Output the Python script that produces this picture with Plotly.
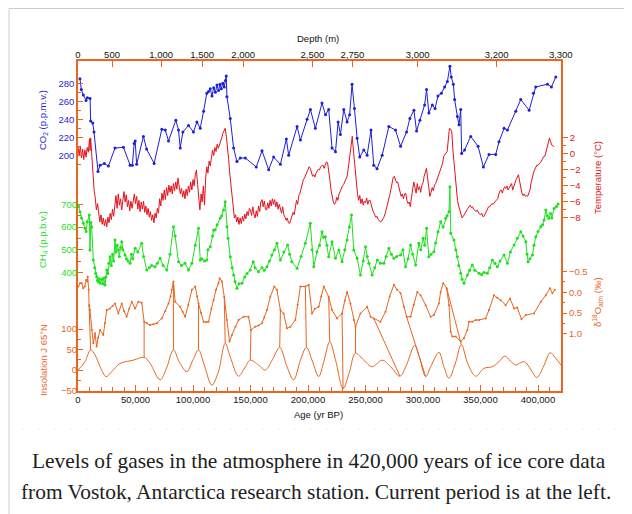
import numpy as np
import plotly.graph_objects as go

# ---------------- data (ages in thousands of years BP) ----------------
co2_age = [1.7, 2.9, 4.6, 7.0, 8.1, 10.5, 11.0, 12.8, 13.9, 17.4, 19.2, 22.9, 26.4, 32.2, 39.5, 45.3, 47.3,
           48.8, 49.7, 51.0, 56.9, 59.6, 66.2, 72.9, 75.9, 78.7, 85.1, 87.4, 88.9, 91.2, 96.1, 100.4, 103.4,
           106.3, 109.2, 112.0, 113.5, 115.0, 116.5, 118.0, 119.5, 120.8, 122.2, 123.5, 124.6, 126.0, 127.2,
           128.2, 128.9, 129.5, 132.4, 135.3, 138.2, 141.1, 145.5, 155.0, 160.0, 165.8, 170.1, 176.0, 181.2,
           183.2, 190.5, 193.4, 199.2, 202.1, 206.4, 212.2, 215.2, 218.0, 220.9, 223.9, 226.2, 228.2, 231.1,
           234.0, 236.2, 238.3, 240.4, 242.7, 245.0, 248.5, 251.4, 254.8, 257.2, 260.0, 264.5, 270.3, 276.1,
           280.5, 285.7, 288.6, 292.1, 294.4, 297.3, 301.4, 303.1, 305.1, 308.1, 310.5, 313.0, 316.0, 318.8,
           321.2, 323.4, 324.6, 326.4, 327.5, 329.9, 331.3, 332.8, 333.6, 336.2, 341.5, 347.9, 352.5, 357.4,
           363.2, 366.1, 370.5, 373.4, 380.7, 385.0, 392.3, 396.0, 398.0, 408.2, 411.7, 415.5]
co2_ppmv = [285, 273, 267, 261, 264, 263, 238, 236, 226, 182, 189, 191, 188, 208, 209, 189, 189,
            213, 216, 190, 221, 207, 191, 229, 228, 216, 239, 228, 208, 226, 233, 226, 237,
            230, 249, 269, 271, 274, 266, 275, 270, 278, 272, 279, 274, 280, 276,
            283, 288, 265, 241, 208, 193, 197, 197, 187, 205, 184, 198, 190, 218,
            200, 232, 217, 240, 251, 230, 258, 245, 251, 208, 204, 237, 223, 251,
            237, 245, 279, 252, 219, 198, 206, 200, 228, 189, 185, 200, 232, 228,
            210, 226, 241, 250, 227, 239, 256, 273, 247, 256, 252, 266, 269, 276,
            282, 299, 287, 279, 262, 243, 234, 251, 202, 206, 221, 210, 187, 201,
            201, 215, 230, 228, 249, 262, 250, 269, 276, 279, 276, 287]

temp_age = [0, 1, 2, 3, 4, 5, 6, 7, 8, 9, 10, 10.5, 11, 12, 13, 14, 15, 16, 17, 18, 19, 20, 21, 22, 23, 24,
            25, 26, 27, 28, 29, 30, 31, 32, 33, 34, 35, 36, 37, 38, 39, 40, 41, 42, 43, 44, 45, 46, 47, 48,
            49, 50, 51, 52, 53, 54, 55, 56, 57, 58, 59, 60, 61, 62, 63, 64, 65, 66, 67, 68, 69, 70, 71, 72,
            73, 74, 75, 76, 77, 78, 79, 80, 81, 82, 83, 84, 85, 86, 87, 88, 89, 90, 91, 92, 93, 94, 95, 96,
            97, 98, 99, 100, 101, 102, 103, 104, 105, 106, 107, 108, 109, 110, 111, 112, 113, 114, 115, 116,
            117, 118, 119, 120, 121, 122, 123, 124, 125, 126, 127, 128, 129, 130, 131, 132, 133, 134, 135,
            136, 137, 138, 139, 140, 141, 142, 143, 144, 145, 146, 147, 148, 149, 150, 151, 152, 153, 154,
            155, 156, 157, 158, 159, 160, 161, 162, 163, 164, 165, 166, 167, 168, 169, 170, 171, 172, 173,
            174, 175, 176, 177, 178, 179, 180, 181, 182, 183, 184, 185, 186, 187, 188, 189, 190, 191, 192,
            193, 194, 195, 196, 197, 198, 199, 200, 201, 202, 203, 204, 205, 206, 207, 208, 209, 210, 211,
            212, 213, 214, 215, 216, 217, 218, 219, 220, 221, 222, 223, 224, 225, 226, 227, 228, 229, 230,
            231, 232, 233, 234, 235, 236, 237, 238, 238.5, 239, 240, 241, 242, 243, 244, 245, 246, 247, 248,
            249, 250, 251, 252, 253, 254, 255, 256, 257, 258, 259, 260, 261, 262, 263, 264, 265, 266, 267,
            268, 269, 270, 271, 272, 273, 274, 275, 276, 277, 278, 279, 280, 281, 282, 283, 284, 285, 286,
            287, 288, 289, 290, 291, 292, 293, 294, 295, 296, 297, 298, 299, 300, 301, 302, 303, 304, 305,
            306, 307, 308, 309, 310, 311, 312, 313, 314, 315, 316, 317, 318, 319, 320, 321, 322, 323, 324,
            325, 326, 327, 328, 329, 330, 331, 332, 333, 334, 335, 336, 337, 338, 339, 340, 341, 342, 343,
            344, 345, 346, 347, 348, 349, 350, 351, 352, 353, 354, 355, 356, 357, 358, 359, 360, 361, 362,
            363, 364, 365, 366, 367, 368, 369, 370, 371, 372, 373, 374, 375, 376, 377, 378, 379, 380, 381,
            382, 383, 384, 385, 386, 387, 388, 389, 390, 391, 392, 393, 394, 395, 396, 397, 398, 399, 400,
            401, 402, 403, 404, 405, 406, 407, 408, 409, 410, 411, 412, 413, 414]
temp_c = [0.9, -0.2, 1.0, -0.5, 0.6, -0.7, 0.5, -0.4, 0.8, 0.2, 1.9, 0.4, 2.0, -0.3, -2.5, -4.5, -5.5,
          -7.0, -6.2, -7.8, -8.5, -7.6, -8.8, -8.0, -9.0, -8.2, -9.1, -7.9, -8.6, -7.4, -8.2, -6.9, -7.8,
          -6.5, -5.2, -6.8, -5.0, -6.4, -5.6, -7.0, -5.4, -4.7, -6.0, -5.1, -6.6, -5.8, -7.1, -5.9, -6.8,
          -5.5, -5.0, -6.2, -5.3, -6.9, -5.8, -7.2, -6.0, -6.9, -5.9, -7.3, -6.5, -7.6, -6.8, -7.9, -7.2,
          -8.3, -7.6, -8.6, -7.4, -8.0, -6.8, -7.4, -5.6, -6.5, -4.9, -5.8, -4.5, -5.7, -4.2, -5.2, -3.9,
          -4.8, -4.0, -5.0, -3.7, -4.6, -3.5, -4.4, -3.0, -4.1, -5.0, -4.3, -5.4, -4.6, -5.6, -4.4, -5.2,
          -4.0, -4.8, -3.5, -4.5, -3.2, -4.0, -2.6, -2.0, -3.8, -5.5, -7.0, -5.0, -6.0, -4.0, -6.4, -3.0,
          -1.6, -2.4, -0.9, -1.5, -0.3, 0.5, -0.2, 0.8, 0.3, 1.2, 0.7, 1.1, 1.6, 2.0, 2.6, 3.0, 3.2, 2.2,
          1.0, -0.7, -2.5, -4.1, -5.8, -7.0, -8.0, -7.6, -8.5, -7.9, -8.8, -8.0, -8.7, -7.8, -8.4, -7.5,
          -8.1, -7.2, -7.7, -6.8, -7.0, -7.7, -6.6, -7.5, -8.0, -7.1, -7.8, -6.5, -7.2, -6.0, -5.7, -6.6,
          -5.9, -6.9, -7.0, -6.1, -6.8, -5.8, -6.5, -5.6, -6.3, -5.7, -6.6, -6.0, -6.9, -6.3, -7.1, -7.4,
          -6.6, -7.6, -7.9, -8.3, -8.0, -8.6, -8.7, -8.2, -8.0, -7.3, -7.6, -6.5, -5.8, -6.3, -5.2, -4.9,
          -4.2, -3.8, -3.2, -3.0, -2.6, -2.4, -1.9, -1.6, -1.8, -2.3, -2.8, -2.6, -2.9, -2.4, -2.2, -1.9,
          -2.0, -1.6, -1.5, -1.4, -1.8, -1.2, -1.0, -1.1, -2.0, -3.2, -4.5, -5.4, -6.0, -6.3, -6.1, -5.4,
          -5.8, -5.0, -4.6, -4.3, -4.0, -3.8, -3.5, -3.2, -2.8, -1.8, -0.8, 0.3, 1.5, 2.2, 1.2, -0.3, -2.0,
          -3.8, -4.9, -5.8, -5.2, -6.2, -5.6, -6.4, -5.9, -6.1, -5.5, -6.3, -5.8, -5.8, -6.6, -6.9, -7.3,
          -7.6, -7.9, -7.8, -8.2, -8.3, -8.5, -8.4, -8.2, -7.9, -7.5, -7.0, -6.4, -5.8, -5.2, -4.5, -3.8,
          -3.0, -2.8, -3.2, -3.6, -3.5, -4.1, -4.6, -5.3, -5.0, -5.6, -5.0, -4.9, -5.8, -6.2, -6.0, -6.6,
          -5.4, -4.6, -3.5, -4.2, -4.9, -3.7, -4.5, -4.1, -4.8, -3.9, -3.6, -2.8, -2.2, -1.8, -3.0, -4.4,
          -5.3, -4.8, -4.2, -4.6, -3.9, -3.7, -3.3, -2.9, -2.5, -2.0, -1.7, -1.2, -0.3, 0.0, 0.1, 0.3, 1.5,
          3.2, 3.1, 2.8, 0.5, -1.2, -3.2, -4.8, -5.8, -6.5, -7.0, -7.5, -8.0, -7.8, -7.5, -7.4, -7.0, -6.8,
          -6.6, -6.4, -6.7, -6.6, -6.9, -7.0, -7.2, -7.0, -7.3, -7.5, -7.6, -7.4, -7.8, -7.8, -7.5, -7.2,
          -6.9, -6.6, -6.6, -6.4, -6.2, -6.3, -6.0, -5.9, -5.75, -5.6, -5.0, -4.6, -4.5, -4.9, -4.4, -4.1,
          -4.3, -4.0, -4.5, -4.2, -3.9, -3.7, -4.5, -4.0, -3.6, -3.2, -2.9, -2.6, -3.4, -4.2, -4.9, -5.2,
          -5.0, -5.3, -5.2, -5.3, -4.9, -4.5, -3.6, -2.9, -2.4, -2.0, -1.7, -1.4, -1.4, -1.3, -1.1, -0.9,
          -0.6, -0.3, -0.3, 0.2, 0.7, 1.2, 2.0, 1.5, 1.1, 1.0, 0.9]

ch4_age = [0.5, 1.7, 3.0, 4.6, 6.0, 7.0, 8.1, 9.9, 10.4, 11.2, 11.9, 13.3, 14.5, 15.4, 16.2, 17.0, 17.5,
           18.3, 19.2, 20.5, 21.5, 22.4, 23.5, 24.2, 25.0, 26.0, 26.8, 27.9, 29.0, 30.0, 31.0, 32.2, 33.0,
           34.0, 35.1, 36.0, 37.0, 38.0, 39.0, 40.9, 42.0, 43.5, 45.3, 46.5, 47.5, 49.7, 52.0, 55.4, 57.0,
           59.8, 62.0, 64.0, 67.0, 69.0, 71.4, 74.0, 77.2, 80.0, 83.0, 84.5, 87.4, 90.0, 93.0, 96.1, 99.0,
           102.0, 104.8, 106.3, 107.7, 110.0, 112.0, 113.0, 115.0, 117.0, 117.9, 119.3, 121.0, 123.7, 125.0,
           126.6, 128.0, 129.5, 130.5, 132.4, 134.0, 135.3, 136.5, 138.2, 140.0, 142.6, 145.0, 147.0, 149.8,
           152.4, 154.0, 157.0, 160.0, 162.0, 164.3, 166.5, 168.6, 171.0, 173.0, 176.0, 179.0, 182.3, 184.0,
           186.0, 190.5, 194.0, 197.7, 202.0, 203.5, 205.0, 207.8, 210.0, 212.2, 213.5, 215.0, 216.5, 218.0,
           220.9, 223.9, 226.8, 229.6, 232.0, 234.0, 236.0, 237.8, 239.8, 242.7, 245.6, 248.0, 250.0, 251.5,
           252.9, 255.8, 258.0, 260.2, 263.0, 266.0, 268.0, 270.3, 272.5, 274.7, 277.0, 280.5, 282.5, 284.8,
           287.0, 289.2, 291.0, 293.6, 296.4, 298.0, 300.2, 301.5, 303.1, 305.1, 307.0, 309.5, 311.0, 313.0,
           315.3, 317.5, 319.7, 321.0, 322.6, 323.4, 324.1, 326.9, 328.5, 329.9, 331.0, 332.8, 334.0, 335.6,
           338.6, 340.5, 342.9, 345.0, 348.7, 351.0, 353.0, 356.0, 358.0, 360.3, 362.5, 364.7, 367.0, 370.5,
           373.4, 376.0, 379.2, 382.0, 385.0, 387.0, 389.4, 390.5, 391.4, 393.0, 395.2, 396.5, 398.1, 400.0,
           402.4, 404.0, 405.3, 406.8, 408.0, 409.4, 411.0, 412.0, 414.0, 416.0, 417.5]
ch4_ppbv = [690, 667, 640, 616, 594, 580, 623, 653, 499, 620, 600, 455, 420, 395, 381, 365, 360,
            372, 352, 370, 350, 375, 344, 380, 411, 395, 440, 469, 430, 480, 450, 543, 490,
            520, 499, 470, 510, 535, 500, 477, 460, 450, 440, 480, 460, 506, 490, 528, 470,
            411, 420, 430, 425, 440, 462, 430, 411, 480, 601, 560, 447, 430, 440, 411, 440,
            520, 594, 455, 460, 450, 455, 500, 513, 560, 587, 587, 610, 640, 650,
            675, 711, 601, 550, 469, 420, 389, 360, 330, 350, 352, 380, 395, 411,
            447, 420, 403, 420, 410, 425, 450, 477, 500, 528, 455, 490, 521, 480,
            447, 418, 470, 528, 616, 500, 425, 491, 520, 579, 555, 557, 520, 469,
            535, 462, 499, 447, 500, 543, 600, 653, 499, 462, 389, 450, 513, 470,
            440, 389, 420, 455, 440, 440, 470, 506, 480, 462, 470, 477, 500, 425,
            460, 521, 480, 433, 528, 500, 550, 520, 594, 469, 480, 491, 530, 579,
            623, 600, 638, 650, 667, 777, 572, 543, 500, 469, 430, 396, 370, 352,
            389, 410, 433, 410, 396, 390, 400, 396, 420, 455, 440, 425, 450, 477,
            440, 490, 521, 550, 579, 560, 535, 480, 447, 460, 477, 520, 557, 580,
            601, 610, 631, 675, 650, 638, 660, 640, 682, 690, 701]

d18o_age = [0.3, 1.7, 3.2, 4.5, 6.0, 7.0, 8.1, 8.4, 9.3, 9.6, 10.4, 11.9, 13.3, 14.8, 16.2, 17.5, 19.2,
            22.0, 23.5, 25.0, 27.9, 30.0, 32.2, 35.1, 38.0, 40.0, 42.3, 44.5, 46.7, 49.7, 52.5, 55.4, 57.5,
            60.0, 62.7, 65.5, 68.5, 72.9, 76.0, 78.7, 80.5, 81.6, 83.0, 84.5, 88.8, 91.0, 93.2, 96.0, 99.0,
            101.9, 103.5, 104.8, 107.0, 109.2, 111.5, 113.5, 116.0, 117.9, 120.0, 122.2, 123.1, 125.2, 127.2,
            129.5, 131.8, 133.8, 136.8, 139.6, 144.0, 148.3, 150.4, 154.2, 157.0, 160.0, 162.0, 164.3, 167.2,
            170.7, 173.0, 176.0, 178.8, 181.7, 184.7, 189.0, 191.0, 193.4, 197.7, 200.6, 203.5, 206.0, 209.3,
            211.5, 213.7, 218.0, 220.9, 225.3, 229.6, 232.0, 234.0, 236.9, 239.8, 241.3, 245.6, 251.4, 254.4,
            257.2, 263.0, 267.4, 271.0, 274.7, 277.5, 280.5, 283.4, 285.7, 289.2, 292.0, 295.0, 297.9, 302.3,
            306.6, 309.5, 313.8, 315.3, 317.6, 320.6, 322.6, 324.0, 325.5, 328.4, 332.8, 335.6, 338.6, 340.0,
            342.9, 345.8, 348.7, 354.5, 357.4, 361.7, 364.5, 367.6, 371.9, 375.7, 379.2, 382.0, 385.6, 389.4,
            396.6, 402.4, 406.8, 410.5, 412.5, 414.6]
d18o_permil = [-0.14, -0.22, -0.22, -0.10, -0.14, -0.30, -0.26, -0.38, -0.06, 0.31, 0.43, 0.91, 1.23, 0.99,
               1.31, 1.10, 0.91, 1.03, 0.75, 0.43, 0.39, 0.33, 0.27, 0.51, 0.27, 0.45, 0.59, 0.40, 0.23, 0.39,
               0.23, 0.25, 0.71, 0.75, 0.79, 0.77, 0.75, 0.63, 0.45, 0.27, 0.10, -0.06, -0.26, 0.23, 0.35,
               0.47, 0.59, 0.30, -0.06, -0.14, 0.10, 0.27, 0.50, 0.71, 0.72, 0.71, 0.40, 0.19, -0.06, -0.22,
               -0.34, -0.26, 0.11, 0.67, 1.19, 1.03, 0.83, 0.67, 0.59, 0.59, 0.91, 0.83, 0.80, 0.75, 0.60,
               0.43, 0.11, -0.14, -0.06, 0.43, 0.51, 0.87, 0.83, 0.67, 0.30, -0.14, -0.14, -0.18, 0.51, 0.40,
               0.35, 0.10, -0.14, 0.11, 0.43, 0.63, 0.51, 0.20, -0.01, 0.27, 0.67, 0.83, 0.51, 0.35, 0.59,
               0.63, 0.71, 0.47, 0.10, -0.18, -0.06, 0.02, 0.35, 0.59, 0.59, 0.30, -0.01, 0.07, 0.31,
               0.59, 0.55, 0.27, -0.01, -0.22, -0.10, 0.31, 0.95, 1.07, 1.07, 1.19, 1.11, 0.91, 0.71,
               0.71, 0.67, 0.67, 0.63, 0.43, 0.07, 0.13, 0.19, 0.31, 0.15, 0.39, 0.37, 0.65, 0.55,
               0.51, 0.23, 0.07, -0.10, 0.02, -0.06]

ins_age = [0, 6, 11, 14.8, 19.2, 24.4, 29.3, 36.6, 48.2, 57.5, 62.7, 71.4, 77, 83, 88, 94.7, 100, 104.8,
           110, 116.4, 122, 128, 132.4, 139.6, 145, 149.8, 157, 162.9, 169, 175.4, 181.7, 187.5, 193.4,
           198.6, 204, 209.3, 213.7, 218.9, 223.9, 230.5, 236, 241.3, 248.5, 255.8, 264.5, 271.8, 279.9,
           286, 292.7, 297, 302.3, 307, 313.9, 318, 322.6, 328, 333.3, 339, 345.8, 353, 360.3, 366, 371.1,
           376, 380.7, 385, 388.5, 394, 399, 405, 410.5, 415, 419.9]
ins_wm2 = [0, 20, 49, 37, 8, -16, -4, 16, 24, 31, 16, -24, 5, 49, 20, -4, 25, 49,
           10, -37, -5, 65, 32, -15, 5, 24, 12, 0, 25, 55, 8, -24, 24,
           55, 20, -16, 20, 69, 25, -45, -5, 41, 24, 8, 24, 8, -15,
           15, 60, 30, -16, 10, 43, 10, -20, 15, 62, 15, -15, 4, 8, 20, 34,
           22, 12, 18, 20, 0, -18, 10, 42, 30, 12]

# tie lines between the d18O record (top end) and the insolation curve (bottom end)
tie_top_age = [9.6, 57.5, 83.0, 104.8, 127.2, 150.4, 176.0, 197.7, 218.0, 229.6, 241.3, 257.2, 285.7, 320.6]
tie_bot_age = [11, 57.5, 83, 104.8, 128, 149.8, 175.4, 198.6, 218.9, 230.5, 241.3, 279.9, 302.3, 333.3]

age_tick_vals = [0, 50000, 100000, 150000, 200000, 250000, 300000, 350000, 400000]
age_tick_text = ['0', '50,000', '100,000', '150,000', '200,000', '250,000', '300,000', '350,000', '400,000']
depth_tick_text = ['0', '500', '1,000', '1,500', '2,000', '2,500', '2,750', '3,000', '3,200', '3,300']
depth_tick_age = [0, 29600, 72300, 108000, 143700, 203800, 238700, 295300, 364100, 419800]

co2_ticks = [200, 220, 240, 260, 280]
temp_ticks = [2, 0, -2, -4, -6, -8]
ch4_ticks = [400, 500, 600, 700]
d18o_ticks = [-0.5, 0.0, 0.5, 1.0]
d18o_tick_text = ['\u22120.5', '0.0', '0.5', '1.0']
ins_ticks = [-50, 0, 50, 100]

# ---------------- styling ----------------
ORANGE = '#e8661f'
BLUE = '#1f1fd6'
RED = '#e3131d'
GREEN = '#1fe01f'
FONT = 'Liberation Sans, Arial, Helvetica, sans-serif'
FS = 9.5

# the page body has an 8px margin, so the figure starts at (8, 8) of the window
OFF = 8
W, H = 632 - OFF, 514 - OFF
PLOT_L, PLOT_R, PLOT_T, PLOT_B = 78, 561, 61, 391      # plot area in window pixels
ML, MT = PLOT_L - OFF, PLOT_T - OFF
PW, PH = PLOT_R - PLOT_L, PLOT_B - PLOT_T
MR, MB = W - ML - PW, H - MT - PH

CO2_RANGE = [-61.9, 304.8]
T_RANGE = [-29.6, 11.6]
CH4_RANGE = [-122.5, 1331.3]
D18_RANGE = [2.384, -5.587]
INS_RANGE = [-51.2, 753.7]


def px(x):
    return (x - PLOT_L) / PW


def py(y):
    return (PLOT_B - y) / PH


def kyr(a):
    return [v * 1000 for v in a]


fig = go.Figure()

fig.add_trace(go.Scatter(x=kyr(temp_age), y=temp_c, yaxis='y2', mode='lines',
                         line=dict(color=RED, width=1), hoverinfo='skip'))
fig.add_trace(go.Scatter(x=kyr(co2_age), y=co2_ppmv, yaxis='y', mode='lines+markers',
                         line=dict(color=BLUE, width=1), marker=dict(size=3, color=BLUE), hoverinfo='skip'))
fig.add_trace(go.Scatter(x=kyr(ch4_age), y=ch4_ppbv, yaxis='y3', mode='lines+markers',
                         line=dict(color=GREEN, width=1), marker=dict(size=3, color=GREEN), hoverinfo='skip'))
fig.add_trace(go.Scatter(x=kyr(d18o_age), y=d18o_permil, yaxis='y4', mode='lines+markers',
                         line=dict(color=ORANGE, width=1), marker=dict(size=2, color=ORANGE), hoverinfo='skip'))
fig.add_trace(go.Scatter(x=kyr(ins_age), y=ins_wm2, yaxis='y5', mode='lines',
                         line=dict(color=ORANGE, width=1, shape='spline', smoothing=1.0), hoverinfo='skip'))

# tie lines drawn on the insolation axis; the d18O end is carried over through the two axis ranges
top_d = np.interp(tie_top_age, d18o_age, d18o_permil)
frac = (top_d - D18_RANGE[0]) / (D18_RANGE[1] - D18_RANGE[0])
top_ins = INS_RANGE[0] + frac * (INS_RANGE[1] - INS_RANGE[0])
bot_ins = np.interp(tie_bot_age, ins_age, ins_wm2)
tx, ty = [], []
for a0, v0, a1, v1 in zip(tie_top_age, top_ins, tie_bot_age, bot_ins):
    tx += [a0 * 1000, a1 * 1000, None]
    ty += [float(v0), float(v1), None]
fig.add_trace(go.Scatter(x=tx, y=ty, yaxis='y5', mode='lines',
                         line=dict(color=ORANGE, width=1), hoverinfo='skip'))

# carrier for the top (depth) axis
fig.add_trace(go.Scatter(x=[0, 420000], y=[None, None], xaxis='x2', yaxis='y', mode='lines',
                         line=dict(width=0), hoverinfo='skip'))

tickfont = dict(family=FONT, size=FS)

common_y = dict(anchor='x', showgrid=False, zeroline=False, tickmode='array', ticklen=5,
                tickcolor=ORANGE, tickwidth=1)

fig.update_layout(
    width=W, height=H, margin=dict(l=ML, r=MR, t=MT, b=MB, pad=0),
    paper_bgcolor='white', plot_bgcolor='white', showlegend=False,
    xaxis=dict(range=[0, 420000], tickmode='array', tickvals=age_tick_vals, ticktext=age_tick_text,
               ticks='inside', ticklen=6, tickcolor=ORANGE, tickwidth=1, showline=True, linecolor=ORANGE,
               linewidth=1.5, showgrid=False, zeroline=False, tickfont=dict(tickfont, color='#111'),
               ticklabelstandoff=-1,
               minor=dict(tickmode='linear', tick0=0, dtick=10000, ticks='inside', ticklen=4,
                          tickcolor=ORANGE, tickwidth=1)),
    xaxis2=dict(range=[0, 420000], overlaying='x', side='top', anchor='y', tickmode='array',
                tickvals=depth_tick_age, ticktext=depth_tick_text, ticks='inside', ticklen=6,
                tickcolor=ORANGE, tickwidth=1, showline=True, linecolor=ORANGE, linewidth=1.5,
                showgrid=False, zeroline=False, tickfont=dict(tickfont, color='#111'),
                ticklabelstandoff=-3),
    yaxis=dict(common_y, range=CO2_RANGE, side='left', tickvals=co2_ticks, ticks='inside',
               showline=True, linecolor=ORANGE, linewidth=1.5, tickfont=dict(tickfont, color=BLUE),
               minor=dict(tickmode='array', tickvals=[190, 210, 230, 250, 270], ticks='inside',
                          ticklen=3, tickcolor=ORANGE)),
    yaxis2=dict(common_y, range=T_RANGE, overlaying='y', side='right', tickvals=temp_ticks,
                ticks='outside', showline=True, linecolor=ORANGE, linewidth=1.5,
                tickfont=dict(tickfont, color=RED),
                minor=dict(tickmode='array', tickvals=[1, -1, -3, -5, -7], ticks='outside',
                           ticklen=3, tickcolor=ORANGE)),
    yaxis3=dict(common_y, range=CH4_RANGE, overlaying='y', side='left', tickvals=ch4_ticks,
                ticks='inside', showline=False, tickfont=dict(tickfont, color=GREEN),
                minor=dict(tickmode='array', tickvals=[450, 550, 650], ticks='inside',
                           ticklen=3, tickcolor=ORANGE)),
    yaxis4=dict(common_y, range=D18_RANGE, overlaying='y', side='right', tickvals=d18o_ticks,
                ticktext=d18o_tick_text, ticks='outside', showline=False,
                tickfont=dict(tickfont, color=ORANGE),
                minor=dict(tickmode='array', tickvals=[-0.25, 0.25, 0.75], ticks='outside',
                           ticklen=3, tickcolor=ORANGE)),
    yaxis5=dict(common_y, range=INS_RANGE, overlaying='y', side='left', tickvals=ins_ticks,
                ticks='inside', showline=False, tickfont=dict(tickfont, color=ORANGE),
                minor=dict(tickmode='array', tickvals=[-25, 25, 75], ticks='inside',
                           ticklen=3, tickcolor=ORANGE)),
)

ann = [
    dict(text='CO<sub>2</sub> (p.p.m.v.)', x=px(43), y=py(120), color=BLUE, angle=-90),
    dict(text='CH<sub>4</sub> (p.p.b.v.)', x=px(43), y=py(240), color=GREEN, angle=-90),
    dict(text='Insolation J 65\u00b0N', x=px(43), y=py(360), color=ORANGE, angle=-90),
    dict(text='Temperature (\u00b0C)', x=px(597), y=py(178), color=RED, angle=-90),
    dict(text='\u03b4<sup>18</sup>O<sub>atm</sub> (\u2030)', x=px(597), y=py(302), color=ORANGE, angle=-90),
    dict(text='Depth (m)', x=px(318), y=py(38), color='#111', angle=0),
    dict(text='Age (yr BP)', x=px(318), y=py(414), color='#111', angle=0),
]
for a in ann:
    fig.add_annotation(text=a['text'], x=a['x'], y=a['y'], xref='paper', yref='paper', showarrow=False,
                       textangle=a['angle'], xanchor='center', yanchor='middle',
                       font=dict(family=FONT, size=FS, color=a['color']))

cap_font = dict(family='Liberation Serif, Times New Roman, serif', size=21.4, color='#202122')
fig.add_annotation(text='Levels of gases in the atmosphere in 420,000 years of ice core data',
                   x=px(318.5), y=py(461), xref='paper', yref='paper', showarrow=False,
                   xanchor='center', yanchor='middle', font=cap_font)
fig.add_annotation(text='from Vostok, Antarctica research station. Current period is at the left.',
                   x=px(316), y=py(492), xref='paper', yref='paper', showarrow=False,
                   xanchor='center', yanchor='middle', font=cap_font)

# thumbnail frame and the faint dotted remnant row under the chart
fig.add_shape(type='line', xref='paper', yref='paper', x0=px(9), x1=px(640), y0=py(8.5), y1=py(8.5),
              line=dict(color='#c8ccd1', width=1))
fig.add_shape(type='line', xref='paper', yref='paper', x0=px(9), x1=px(9), y0=py(8.5), y1=py(520),
              line=dict(color='#c8ccd1', width=1))
fig.add_shape(type='line', xref='paper', yref='paper', x0=px(22), x1=px(618), y0=py(429), y1=py(429),
              line=dict(color='#d4d4d4', width=1, dash='1px,15px'))

fig.write_html('out.html')
